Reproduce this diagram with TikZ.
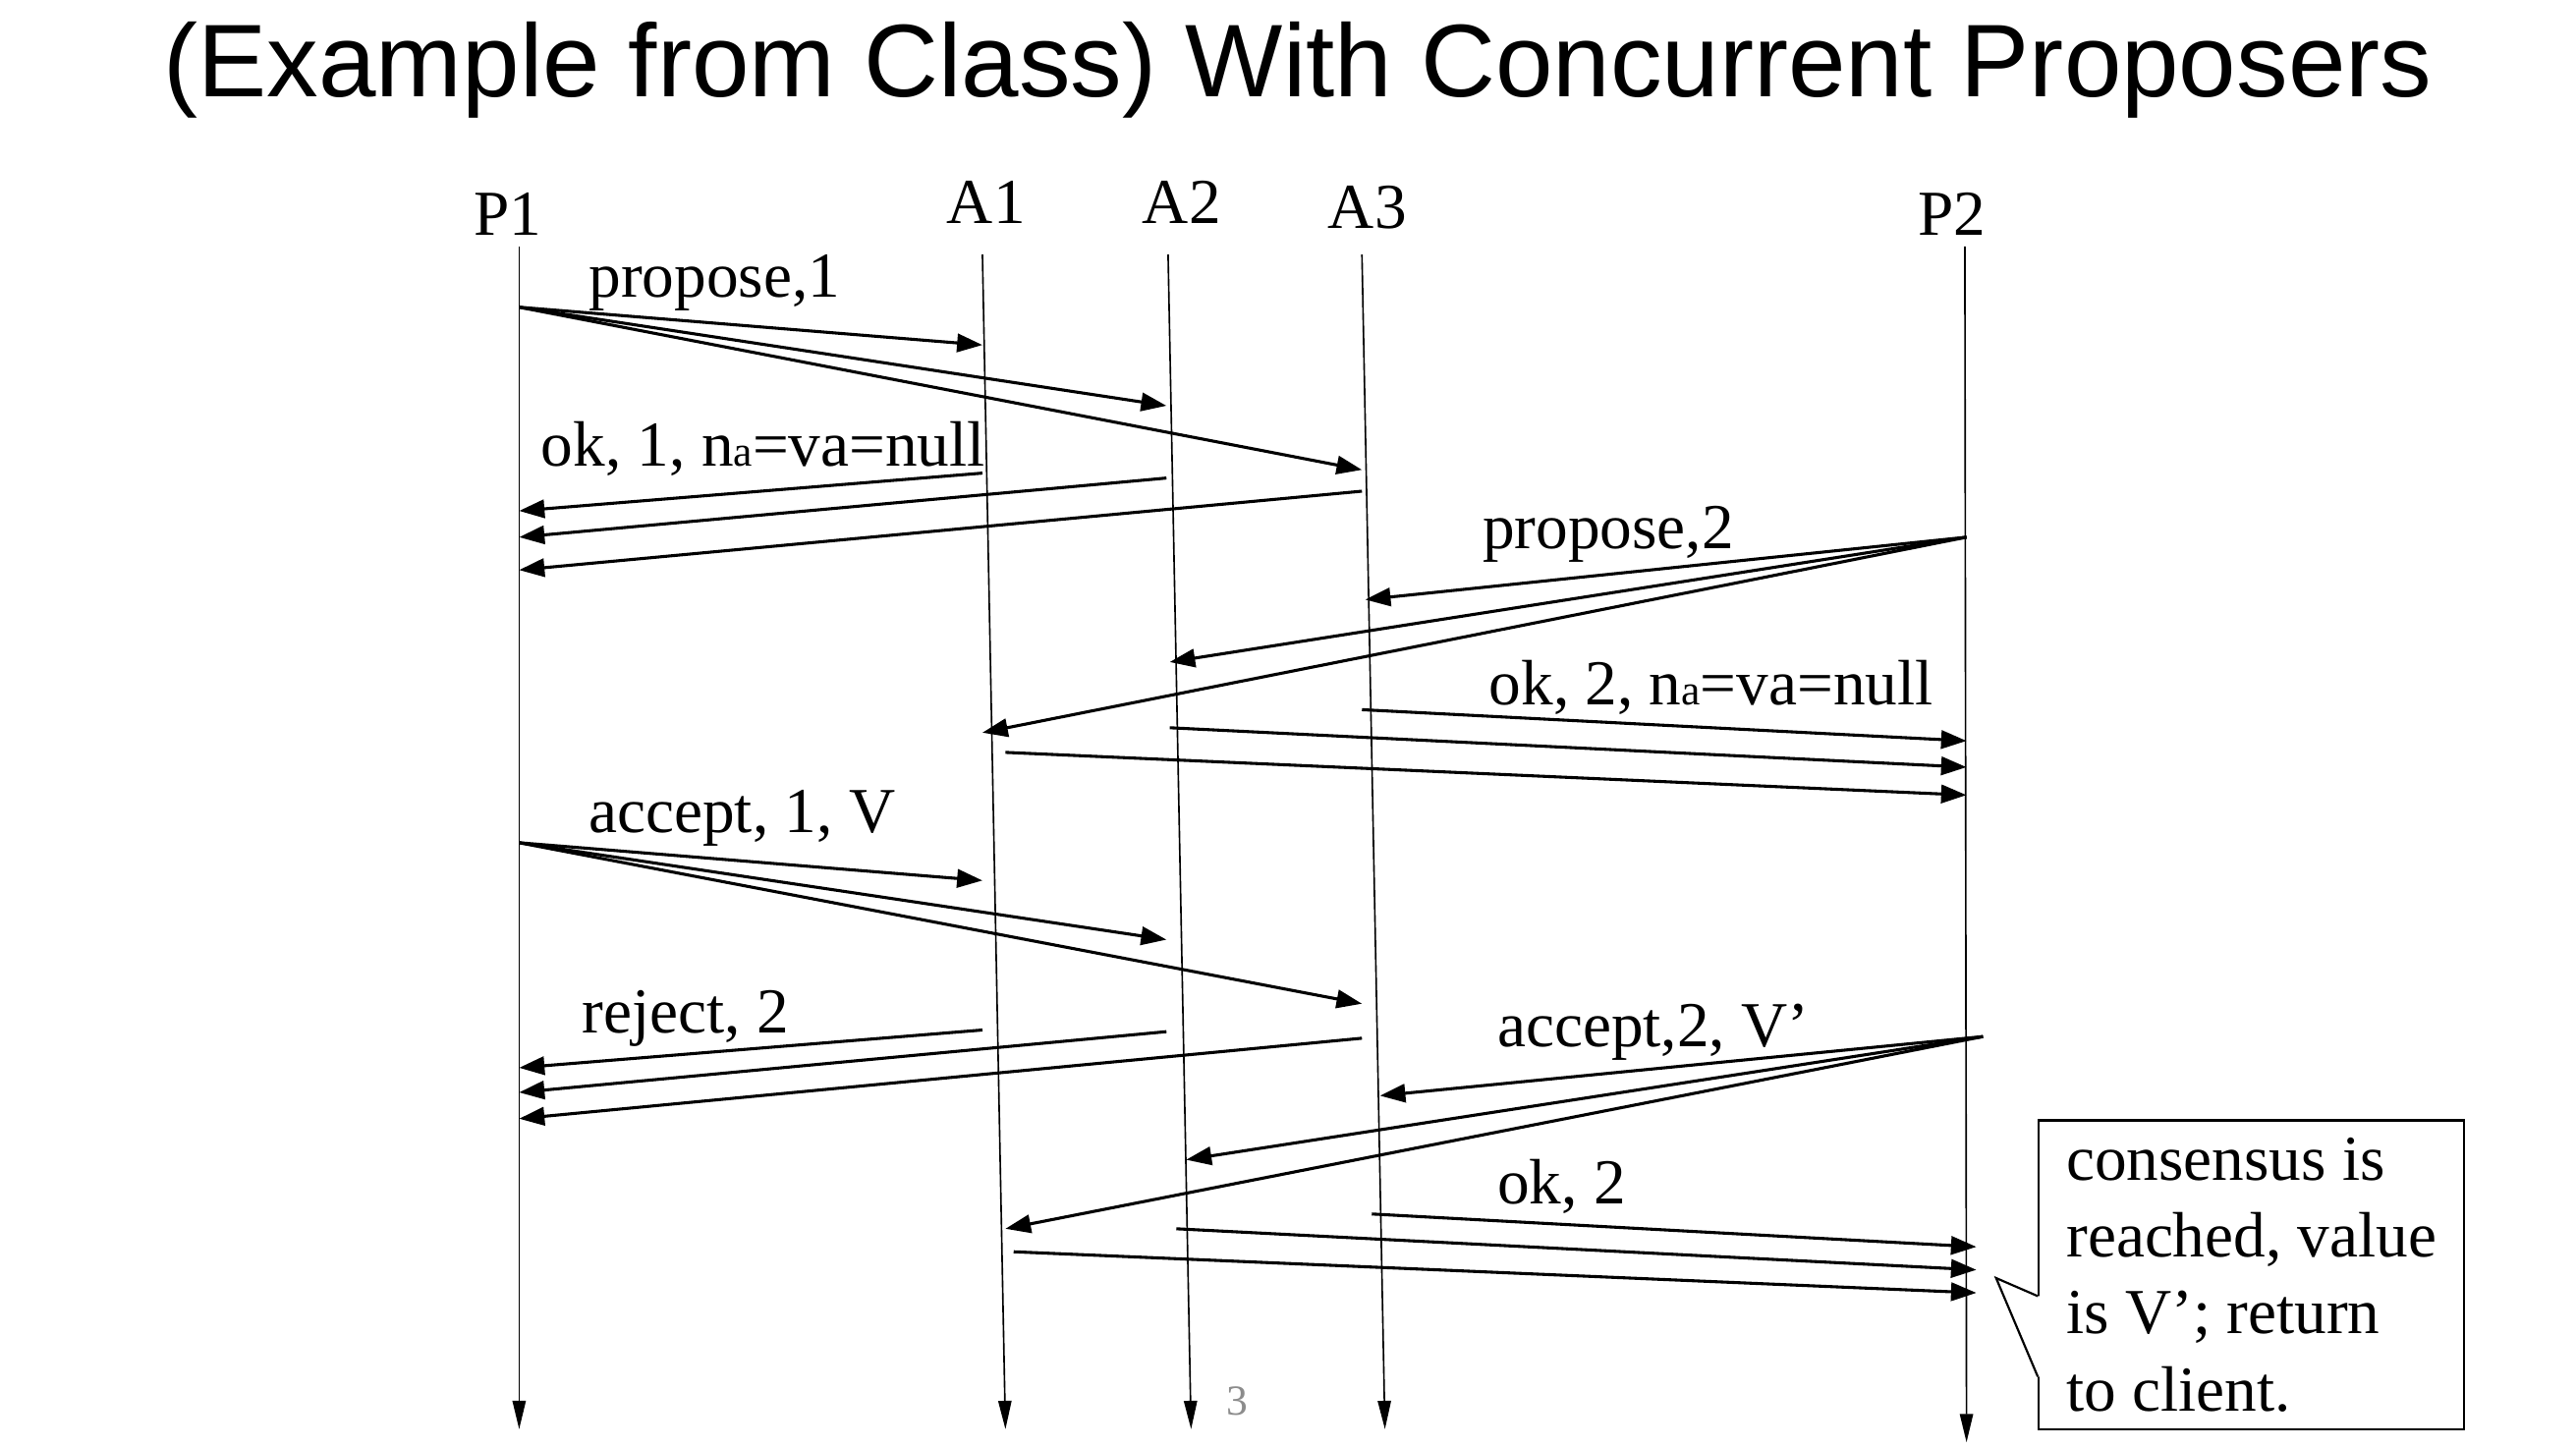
\documentclass[tikz,border=0pt]{standalone}
\usepackage{fontspec}
\setmainfont{Liberation Serif}
\setsansfont{Liberation Sans}
\usetikzlibrary{arrows.meta, positioning, calc}
\definecolor{pagegray}{HTML}{8C8C8C}

\newcommand{\suba}{{\fontsize{12}{12}\selectfont a}}

\tikzset{
  lifeline/.style={line width=0.45pt, -{Triangle[length=0.28cm, width=0.13cm]}},
  msg/.style={line width=0.85pt, -{Triangle[length=0.25cm, width=0.18cm]}},
  actor/.style={anchor=base west, inner sep=0pt, font=\fontsize{18}{21.6}\selectfont},
  msglabel/.style={anchor=base west, inner sep=0pt, font=\fontsize{18}{21.6}\selectfont},
  notebox/.style={draw, line width=0.6pt, fill=white, align=left, inner sep=0pt,
                  minimum width=4.196cm, minimum height=3.046cm,
                  font=\fontsize{18}{21.6}\selectfont}
}

\begin{document}
\begin{tikzpicture}[x=0.0162cm, y=-0.0162cm]
  \useasboundingbox (0,0) rectangle (1568,881);

  \node[anchor=base, font=\sffamily\fontsize{29}{34}\selectfont] (title) at (790,59)
    {(Example from Class) With Concurrent Proposers};

  % processes
  \node[actor] (P1) at (288,143) {P1};
  \node[actor] (A1) at (576,136) {A1};
  \node[actor] (A2) at (695,136) {A2};
  \node[actor] (A3) at (808,139) {A3};
  \node[actor] (P2) at (1167,143) {P2};

  % lifelines
  \coordinate (P1t) at (316,150);  \coordinate (P1b) at (316,870);
  \coordinate (A1t) at (598,155);  \coordinate (A1b) at (612,870);
  \coordinate (A2t) at (711,155);  \coordinate (A2b) at (725,870);
  \coordinate (A3t) at (829,155);  \coordinate (A3b) at (843,870);
  \coordinate (P2t) at (1196,150); \coordinate (P2b) at (1197,878);
  \foreach \p in {P1,A1,A2,A3,P2}
    \draw[lifeline] (\p t) -- (\p b);

  % messages
  \foreach \nm/\xa/\ya/\xb/\yb in {
      p1a/316/187/598/210, p1b/316/187/710/247, p1c/316/187/829/286,
      o1a/598/288/316/311, o1b/710/291/316/327, o1c/829/299/316/347,
      p2a/1197/327/831/365, p2b/1197/327/712/403, p2c/1197/327/598/446,
      o2a/829/432/1197/451, o2b/712/443/1197/467, o2c/612/458/1197/484,
      a1a/316/513/598/536, a1b/316/513/710/572, a1c/316/513/829/611,
      r1a/598/627/316/650, r1b/710/628/316/665, r1c/829/632/316/681,
      a2a/1207/631/840/667, a2b/1207/631/722/706, a2c/1207/631/612/748,
      o3a/835/739/1203/759, o3b/716/748/1203/773, o3c/617/762/1203/787} {
    \coordinate (\nm s) at (\xa,\ya);
    \coordinate (\nm e) at (\xb,\yb);
    \draw[msg] (\nm s) -- (\nm e);
  }

  % message labels
  \node[msglabel] (lprop1) at (358,181) {propose,1};
  \node[msglabel] (lok1) at (329,284) {ok, 1, n\suba=va=null};
  \node[msglabel] (lprop2) at (902,334) {propose,2};
  \node[msglabel] (lok2) at (906,429) {ok, 2, n\suba=va=null};
  \node[msglabel] (lacc1) at (358,507) {accept, 1, V};
  \node[msglabel] (lrej) at (354,629) {reject, 2};
  \node[msglabel] (lacc2) at (911,637) {accept,2, V’};
  \node[msglabel] (lok3) at (911,733) {ok, 2};

  % callout
  \node[notebox] (note) at (1370.5,776)
    {consensus is\\reached, value\\is V’; return\\to client.};
  \coordinate (tip) at (1215,778);
  \coordinate (nb1) at ($(note.west)+(0,13)$);
  \coordinate (nb2) at ($(note.west)+(0,62)$);
  \fill[white] (nb1) -- (tip) -- (nb2) -- ($(nb2)+(2,0)$) -- ($(nb1)+(2,0)$) -- cycle;
  \draw[line width=0.6pt] (nb1) -- (tip) -- (nb2);

  \node[font=\fontsize{12}{14}\selectfont, text=pagegray] (pgnum) at (753,853) {3};
\end{tikzpicture}
\end{document}
